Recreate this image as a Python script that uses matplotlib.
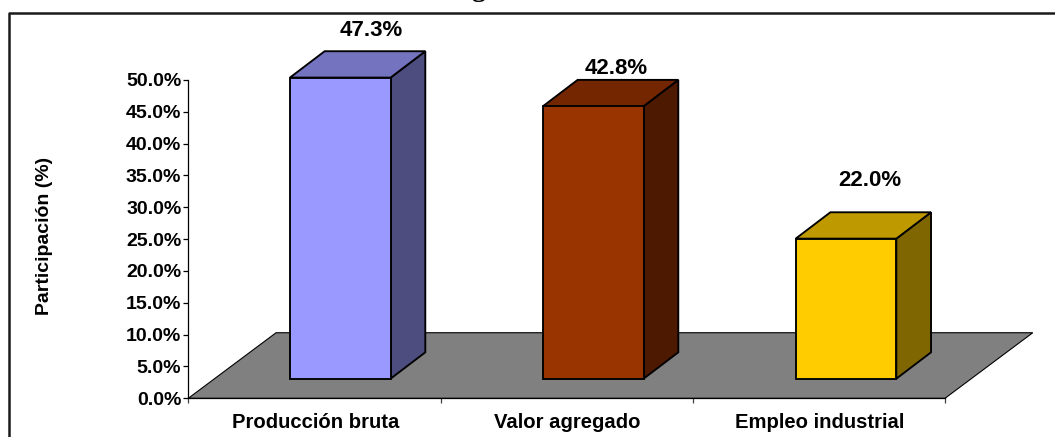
import matplotlib
matplotlib.use("Agg")
import matplotlib.pyplot as plt
from matplotlib.patches import Polygon
from matplotlib.lines import Line2D

plt.rcParams['font.family'] = ['Liberation Sans', 'DejaVu Sans']

# data
categories = ["Producción bruta", "Valor agregado", "Empleo industrial"]
values = [47.3, 42.8, 22.0]
value_labels = ["47.3%", "42.8%", "22.0%"]
yticks = [0, 5, 10, 15, 20, 25, 30, 35, 40, 45, 50]
ytick_labels = ["0.0%", "5.0%", "10.0%", "15.0%", "20.0%", "25.0%", "30.0%", "35.0%", "40.0%", "45.0%", "50.0%"]
front_colors = ["#9999FF", "#993300", "#FFCC00"]
top_colors = ["#7373BF", "#732600", "#BF9900"]
side_colors = ["#4D4D80", "#4D1900", "#806600"]

W, H = 1055, 437
fig = plt.figure(figsize=(W / 100, H / 100), dpi=100)

# axis box in pixels
left, right, bottom, top = 188.3, 945, 398.3, 80
ax = fig.add_axes([left / W, 1 - bottom / H, (right - left) / W, (bottom - top) / H])
ax.set_xlim(0, 3)
ax.set_ylim(0, 50)
ax.patch.set_visible(False)

# 3d look: depth of floor and of the bars, in data units
floor_dx, floor_dy = 0.348, 10.3
bar_dx, bar_dy = 0.1376, 4.14
base = 3.08
bar_w = 0.399
offsets = [0.403, 1.406, 2.408]

floor = Polygon([(0, 0), (floor_dx, floor_dy), (3 + floor_dx, floor_dy), (3, 0)],
                closed=True, facecolor="#808080", edgecolor="black", linewidth=0.8,
                clip_on=False, zorder=1)
ax.add_patch(floor)

for i in range(len(values)):
    x0 = offsets[i]
    x1 = x0 + bar_w
    y1 = base + values[i]
    front = [(x0, base), (x1, base), (x1, y1), (x0, y1)]
    side = [(x1, base), (x1 + bar_dx, base + bar_dy), (x1 + bar_dx, y1 + bar_dy), (x1, y1)]
    roof = [(x0, y1), (x1, y1), (x1 + bar_dx, y1 + bar_dy), (x0 + bar_dx, y1 + bar_dy)]
    for pts, col in [(side, side_colors[i]), (roof, top_colors[i]), (front, front_colors[i])]:
        ax.add_patch(Polygon(pts, closed=True, facecolor=col, edgecolor="black",
                             linewidth=1.35, joinstyle="miter", clip_on=False, zorder=3))

label_x = [371, 616.5, 869.5]
label_y = [31, 69, 181]
for i in range(len(values)):
    fig.text(label_x[i] / W, 1 - label_y[i] / H, value_labels[i], fontsize=16, fontweight="bold",
             ha="center", va="center", color="black")

ax.spines["top"].set_visible(False)
ax.spines["right"].set_visible(False)
ax.spines["left"].set_linewidth(0.9)
ax.spines["bottom"].set_linewidth(0.9)
ax.spines["bottom"].set_zorder(2)

ax.set_yticks(yticks)
ax.set_yticklabels(ytick_labels, fontsize=14, fontweight="bold")
ax.set_xticks([0, 1, 2, 3])
ax.set_xticklabels([])
ax.tick_params(axis="y", length=3.5, width=0.9, pad=1.5)
ax.tick_params(axis="x", length=3.5, width=0.9, color="#444444")

cat_x = [316, 567.5, 819.5]
for i in range(len(categories)):
    fig.text(cat_x[i] / W, 1 - 422 / H, categories[i], fontsize=14.6, fontweight="bold",
             ha="center", va="center")

fig.text(45 / W, 1 - 236 / H, "Participación (%)", rotation=90, fontsize=14, fontweight="bold",
         ha="center", va="center")

# chart frame, only left and top sides show
fig.add_artist(Line2D([8.5 / W, 8.5 / W, 1], [0, 1 - 12.5 / H, 1 - 12.5 / H], color="#1A1A1A", linewidth=1.8))

# descender of the cropped title above the frame
fig.text(478 / W, 1 + 4 / H, "g", fontsize=20, fontweight="bold", family="Liberation Serif",
         ha="center", va="baseline")

fig.savefig("out.png", dpi=100)
